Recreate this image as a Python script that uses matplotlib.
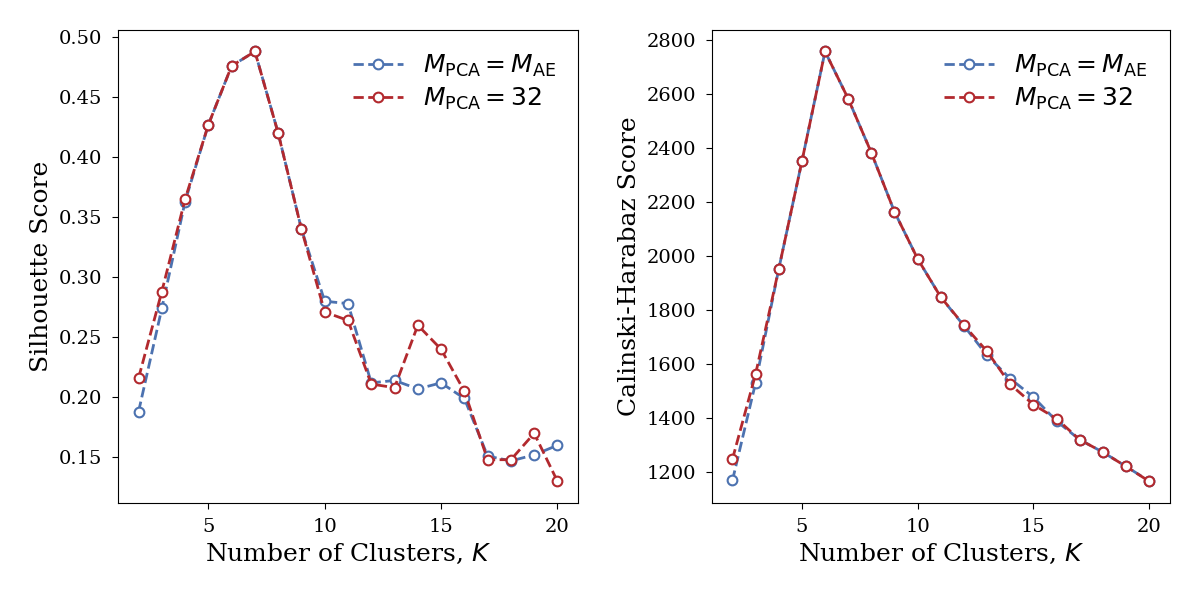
import numpy as np
import matplotlib
matplotlib.use("Agg")
from matplotlib import pyplot as plt

plt.rcParams['font.family'] = 'DejaVu Serif'
plt.rcParams['mathtext.fontset'] = 'dejavusans'

k = list(range(2, 21))

sil_ae = [0.188, 0.274, 0.363, 0.427, 0.476, 0.488, 0.420, 0.340, 0.280, 0.278,
          0.212, 0.214, 0.207, 0.212, 0.199, 0.151, 0.147, 0.152, 0.160]
sil_32 = [0.216, 0.288, 0.365, 0.427, 0.476, 0.488, 0.420, 0.340, 0.271, 0.264,
          0.211, 0.208, 0.260, 0.240, 0.205, 0.148, 0.148, 0.170, 0.130]

ch_ae = [1170, 1532, 1953, 2352, 2759, 2584, 2384, 2165, 1991, 1849,
         1743, 1633, 1547, 1479, 1390, 1321, 1275, 1222, 1168]
ch_32 = [1249, 1564, 1953, 2352, 2759, 2584, 2384, 2165, 1991, 1849,
         1745, 1648, 1526, 1451, 1399, 1321, 1275, 1222, 1167]

blue = "#4C72B0"
red = "#B2292E"

fig = plt.figure(figsize=(12, 6), dpi=100)
ax1 = fig.add_axes([0.098, 0.162, 0.384, 0.788])
ax2 = fig.add_axes([0.593, 0.162, 0.382, 0.788])

panels = [(ax1, sil_ae, sil_32, "Silhouette Score"),
          (ax2, ch_ae, ch_32, "Calinski-Harabaz Score")]

for ax, ae, p32, ylab in panels:
    ax.plot(k, ae, '--o', color=blue, lw=2, ms=7, mfc='white', mew=1.5,
            label=r'$M_{\mathrm{PCA}} = M_{\mathrm{AE}}$')
    ax.plot(k, p32, '--o', color=red, lw=2, ms=7, mfc='white', mew=1.5,
            label=r'$M_{\mathrm{PCA}} = 32$')
    ax.set_xlabel(r'Number of Clusters, $K$', fontsize=18)
    ax.set_ylabel(ylab, fontsize=18)
    ax.set_xticks([5, 10, 15, 20])
    ax.tick_params(labelsize=14, length=4.5, pad=6.5)
    ax.legend(loc='upper right', frameon=False, fontsize=18, labelspacing=0.3)

ax1.set_yticks(np.arange(0.15, 0.501, 0.05))

plt.savefig('out.png')
